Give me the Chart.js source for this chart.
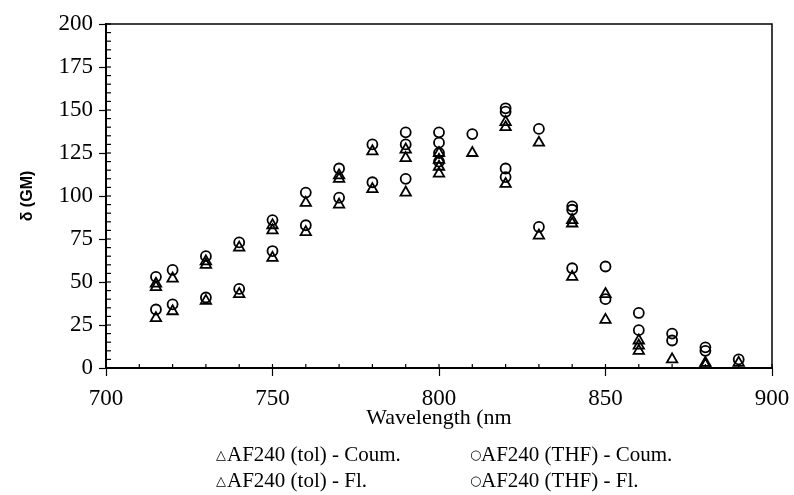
<!DOCTYPE html>
<html lang="en">
  <head>
    <meta charset="UTF-8" />
    <script src="https://cdn.jsdelivr.net/npm/chart.js"></script>
    <title>Two-photon cross section</title>
    <style>
      body { margin: 0; background: #fff; }
      #wrap { position: relative; width: 794px; height: 495px; }
      .leg { position: absolute; font-family: "Liberation Serif", "Times New Roman", serif; font-size: 21px; color: #000; white-space: nowrap; line-height: 22px; }
      .mk { font-family: "DejaVu Sans", sans-serif; font-size: 13px; font-weight: bold; display: inline-block; width: 11px; vertical-align: 2px; }
    </style>
  </head>
  <body>
    <div id="wrap">
      <canvas id="myChart" width="794" height="495"></canvas>
      <div class="leg" style="left:216px; top:443px"><span class="mk">&#9651;</span>AF240 (tol) - Coum.</div>
      <div class="leg" style="left:470px; top:443px"><span class="mk">&#9675;</span>AF240 (THF) - Coum.</div>
      <div class="leg" style="left:216px; top:469px"><span class="mk">&#9651;</span>AF240 (tol) - Fl.</div>
      <div class="leg" style="left:470px; top:469px"><span class="mk">&#9675;</span>AF240 (THF) - Fl.</div>
    </div>
    <script>
      // values (wavelength nm, delta GM)
      const tolCoumX = [715, 715, 720, 730, 730, 740, 750, 750, 760, 770, 770, 780, 790, 790, 800, 800, 810, 820, 820, 830, 840, 840, 850, 860, 860, 870, 880, 880, 890];
      const tolCoumY = [47, 49, 52, 60, 62, 70, 80, 83, 96, 110, 112, 126, 122, 127, 121, 125, 125, 140, 143, 131, 84, 86, 43, 13, 16, 5, 2, 3, 3];

      const thfCoumX = [715, 720, 730, 740, 750, 760, 770, 780, 790, 790, 800, 800, 810, 820, 820, 830, 840, 840, 850, 860, 870, 880, 890];
      const thfCoumY = [53, 57, 65, 73, 86, 102, 116, 130, 130, 137, 131, 137, 136, 149, 151, 139, 92, 94, 59, 32, 20, 12, 5];

      const tolFlX = [715, 720, 730, 740, 750, 760, 770, 780, 790, 800, 800, 820, 830, 840, 850, 860, 880];
      const tolFlY = [29, 33, 39, 43, 64, 79, 95, 104, 102, 113, 117, 107, 77, 53, 28, 10, 2];

      const thfFlX = [715, 720, 730, 740, 750, 760, 770, 780, 790, 800, 800, 820, 820, 830, 840, 850, 860, 870, 880];
      const thfFlY = [34, 37, 41, 46, 68, 83, 99, 108, 110, 120, 125, 111, 116, 82, 58, 40, 22, 16, 10];

      const xMajor = 50;
      const yMajor = 25;

      function pts(xs, ys) {
        return xs.map((x, i) => ({ x: x, y: ys[i] }));
      }

      function ds(label, xs, ys, style) {
        return {
          label: label,
          data: pts(xs, ys),
          pointStyle: style,
          pointRadius: style == "triangle" ? 6 : 5,
          pointBorderWidth: 1.8,
          borderColor: "#000",
          backgroundColor: "rgba(0,0,0,0)",
        };
      }

      // minor ticks pointing into the plot + box frame
      const frame = {
        id: "frame",
        afterDraw(chart) {
          const c = chart.ctx;
          const a = chart.chartArea;
          c.save();
          c.strokeStyle = "#000";
          c.lineWidth = 1.5;
          c.beginPath();
          c.moveTo(a.left, a.top);
          c.lineTo(a.right, a.top);
          c.lineTo(a.right, a.bottom);
          c.stroke();
          c.lineWidth = 1.2;
          chart.scales.x.ticks.forEach((t) => {
            const px = chart.scales.x.getPixelForValue(t.value);
            c.beginPath();
            c.moveTo(px, a.bottom);
            c.lineTo(px, a.bottom - 4);
            c.stroke();
          });
          chart.scales.y.ticks.forEach((t) => {
            const py = chart.scales.y.getPixelForValue(t.value);
            c.beginPath();
            c.moveTo(a.left, py);
            c.lineTo(a.left + 5, py);
            c.stroke();
          });
          c.restore();
        },
      };

      const config = {
        type: "scatter",
        data: {
          datasets: [
            ds("AF240 (tol) - Coum.", tolCoumX, tolCoumY, "triangle"),
            ds("AF240 (THF) - Coum.", thfCoumX, thfCoumY, "circle"),
            ds("AF240 (tol) - Fl.", tolFlX, tolFlY, "triangle"),
            ds("AF240 (THF) - Fl.", thfFlX, thfFlY, "circle"),
          ],
        },
        options: {
          responsive: false,
          animation: false,
          layout: { padding: { left: 14, right: 22, top: 24, bottom: 64 } },
          plugins: { legend: { display: false }, tooltip: { enabled: false } },
          scales: {
            x: {
              type: "linear",
              min: 700,
              max: 900,
              afterFit: (s) => { s.height = 63; s.paddingLeft = 0; s.paddingRight = 0; },
              border: { display: true, color: "#000", width: 2 },
              grid: {
                drawOnChartArea: false,
                tickLength: 8,
                tickWidth: 1.2,
                tickColor: (ctx) => (ctx.tick && ctx.tick.value % xMajor === 0 ? "#000" : "rgba(0,0,0,0)"),
              },
              ticks: {
                stepSize: 10,
                autoSkip: false,
                maxRotation: 0,
                padding: 9,
                color: "#000",
                font: { family: "Liberation Serif", size: 23 },
                callback: (v) => (v % xMajor === 0 ? v : ""),
              },
              title: {
                display: true,
                text: "Wavelength (nm",
                color: "#000",
                padding: { top: 0, bottom: 0 },
                font: { family: "Liberation Serif", size: 22 },
              },
            },
            y: {
              min: 0,
              max: 200,
              afterFit: (s) => { s.width = 92; },
              border: { display: true, color: "#000", width: 2 },
              grid: {
                drawOnChartArea: false,
                tickLength: 7,
                tickWidth: 1.2,
                tickColor: (ctx) => (ctx.tick && ctx.tick.value % yMajor === 0 ? "#000" : "rgba(0,0,0,0)"),
              },
              ticks: {
                stepSize: 5,
                autoSkip: false,
                padding: 6,
                color: "#000",
                font: { family: "Liberation Serif", size: 23 },
                callback: (v) => (v % yMajor === 0 ? v : ""),
              },
              title: {
                display: true,
                text: "δ (GM)",
                color: "#000",
                padding: { top: 4, bottom: 0 },
                font: { family: "Liberation Sans", size: 16, weight: "bold" },
              },
            },
          },
        },
        plugins: [frame],
      };
      var myChart = new Chart(document.getElementById("myChart"), config);
    </script>
  </body>
</html>
